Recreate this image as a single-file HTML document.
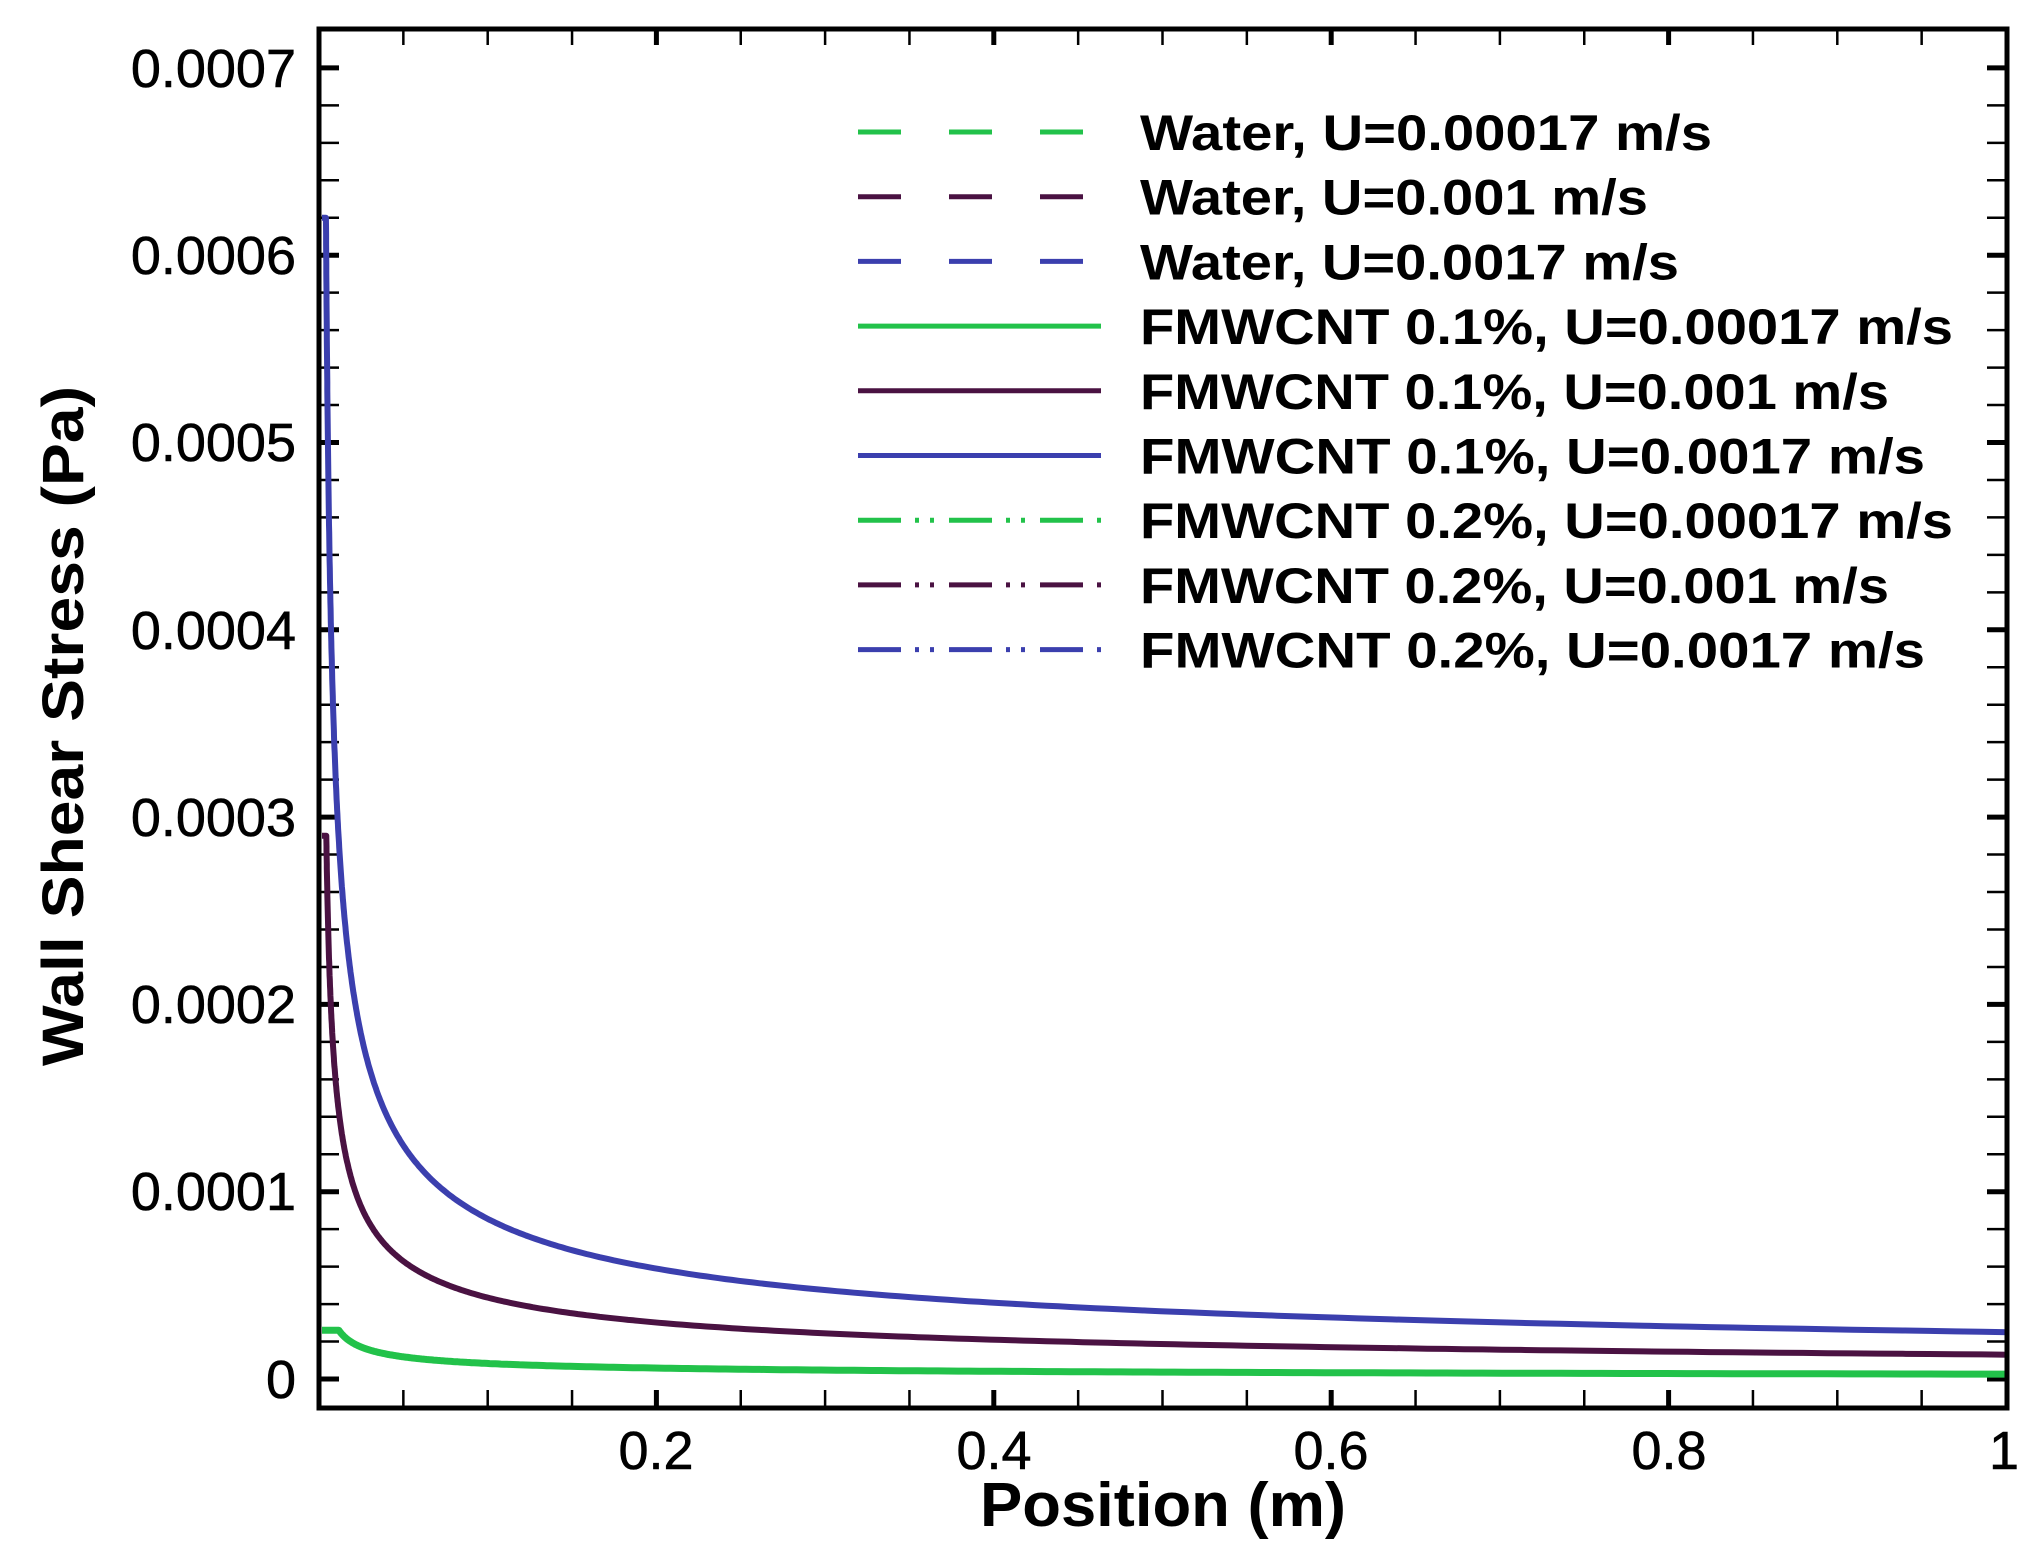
<!DOCTYPE html>
<html><head><meta charset="utf-8"><style>
html,body{margin:0;padding:0;background:#fff}
svg{display:block}
text{font-family:"Liberation Sans",sans-serif}
</style></head><body>
<svg id="s" width="2030" height="1567" viewBox="0 0 2030 1567" xmlns="http://www.w3.org/2000/svg">
<rect width="2030" height="1567" fill="#fff"/>
<g id="ticks" stroke="#000"></g>
<g id="curves" fill="none" stroke-linejoin="round"></g>
<rect x="319" y="29" width="1688" height="1379" fill="none" stroke="#000" stroke-width="5"/>
<g font-size="54" text-anchor="end" fill="#000" stroke="#000" stroke-width="0.6">
<text x="296" y="87">0.0007</text>
<text x="296" y="274">0.0006</text>
<text x="296" y="461">0.0005</text>
<text x="296" y="649">0.0004</text>
<text x="296" y="836">0.0003</text>
<text x="296" y="1023">0.0002</text>
<text x="296" y="1210">0.0001</text>
<text x="296" y="1398">0</text>
</g>
<g font-size="54" text-anchor="middle" fill="#000" stroke="#000" stroke-width="0.6">
<text x="656" y="1469">0.2</text>
<text x="994" y="1469">0.4</text>
<text x="1331" y="1469">0.6</text>
<text x="1669" y="1469">0.8</text>
<text x="2004" y="1469">1</text>
</g>
<text x="1163" y="1526" font-size="62" font-weight="bold" text-anchor="middle" textLength="366" lengthAdjust="spacingAndGlyphs">Position (m)</text>
<text transform="translate(83,726) rotate(-90)" font-size="58" font-weight="bold" text-anchor="middle" textLength="680" lengthAdjust="spacingAndGlyphs">Wall Shear Stress (Pa)</text>
<g id="legend"></g>
</svg>
<script>
var NS="http://www.w3.org/2000/svg";
function el(p,t,a,txt){var e=document.createElementNS(NS,t);for(var k in a)e.setAttribute(k,a[k]);if(txt)e.textContent=txt;p.appendChild(e);return e;}
var X0=319,XW=1687,Y0=1379,YS=1873000;
var tk=document.getElementById('ticks');
for(var i=0;i<=37;i++){var y=Y0-i*37.46;if(y<32)break;var maj=i%5==0;
 el(tk,'line',{x1:319,x2:339,y1:y,y2:y,'stroke-width':maj?5:2.5});
 el(tk,'line',{x1:2007,x2:1987,y1:y,y2:y,'stroke-width':maj?5:2.5});}
for(var i=1;i<20;i++){var x=X0+i*0.05*XW;var maj=i%4==0;
 el(tk,'line',{x1:x,x2:x,y1:1408,y2:1390,'stroke-width':maj?5:2.5});
 el(tk,'line',{x1:x,x2:x,y1:29,y2:45,'stroke-width':maj?5:2.5});}
var cv=document.getElementById('curves');
function curve(c,a,p,maxv,w){var d='';for(var k=0;k<=400;k++){var x=0.0015*Math.pow(1/0.0015,k/400);var v=Math.min(a*Math.pow(x,-p),maxv);
 var px=X0+3+x*XW, py=Y0-v*YS; d+=(k?'L':'M')+px.toFixed(1)+','+py.toFixed(1);} d='M'+(X0+3)+','+(Y0-maxv*YS).toFixed(1)+d.replace('M','L');
 el(cv,'path',{d:d,stroke:c,'stroke-width':w});}
curve('#22c24a',2.6e-6,0.5,2.6e-5,7);
curve('#4a1242',1.3e-5,0.52,2.9e-4,6);
curve('#3b3fae',2.5e-5,0.53,6.2e-4,6);
var lg=document.getElementById('legend');
var items=[['#22c24a','43 48','Water, U=0.00017 m/s',572],['#4a1242','43 48','Water, U=0.001 m/s',508],['#3b3fae','43 48','Water, U=0.0017 m/s',539],
['#22c24a','','FMWCNT 0.1%, U=0.00017 m/s',813],['#4a1242','','FMWCNT 0.1%, U=0.001 m/s',749],['#3b3fae','','FMWCNT 0.1%, U=0.0017 m/s',785],
['#22c24a','43 14 4 11 4 15','FMWCNT 0.2%, U=0.00017 m/s',813],['#4a1242','43 14 4 11 4 15','FMWCNT 0.2%, U=0.001 m/s',749],['#3b3fae','43 14 4 11 4 15','FMWCNT 0.2%, U=0.0017 m/s',785]];
for(var i=0;i<items.length;i++){var y=132+i*64.7;var it=items[i];
 var a={x1:858,x2:1101,y1:y,y2:y,stroke:it[0],'stroke-width':5};if(it[1])a['stroke-dasharray']=it[1];el(lg,'line',a);
 el(lg,'text',{x:1140,y:y+18,'font-size':50,'font-weight':'bold',textLength:it[3],lengthAdjust:'spacingAndGlyphs'},it[2]);}
</script>
</body></html>
